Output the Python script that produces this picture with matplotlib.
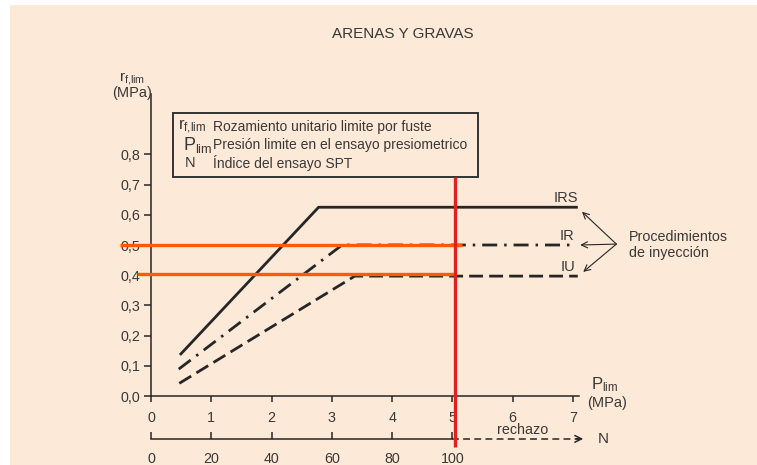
import matplotlib
matplotlib.use("Agg")
import matplotlib.pyplot as plt
from matplotlib.patches import Rectangle

plt.rcParams['font.family'] = ['Liberation Sans', 'DejaVu Sans']
plt.rcParams['mathtext.default'] = 'regular'

# presión límite Plim (MPa) y rozamiento unitario rf,lim (MPa)
p_irs = [0.48, 2.78, 7.08]
r_irs = [0.136, 0.625, 0.625]
p_ir = [0.46, 3.17, 7.05]
r_ir = [0.089, 0.50, 0.50]
p_iu = [0.47, 3.38, 7.08]
r_iu = [0.042, 0.397, 0.397]

procedures = ["IRS", "IR", "IU"]
y_ticks = [0.0, 0.1, 0.2, 0.3, 0.4, 0.5, 0.6, 0.7, 0.8]
y_labels = ["0,0", "0,1", "0,2", "0,3", "0,4", "0,5", "0,6", "0,7", "0,8"]
x_ticks = [0, 1, 2, 3, 4, 5, 6, 7]
n_ticks = [0, 20, 40, 60, 80, 100]

# lecturas marcadas: rf,lim 0,5 y 0,4 ; rechazo en Plim = 5
r_marks = [0.50, 0.405]
r_marks_from = [-0.51, -0.23]
r_marks_to = [5.16, 5.06]
p_reject = 5.04

TXT = '#383838'
LINE = '#262626'
BG = '#fde9d7'

fig = plt.figure(figsize=(7.57, 4.65), dpi=100)
fig.patch.set_facecolor('white')
fig.patches.append(Rectangle((10 / 757, 0), 747 / 757, 460 / 465,
                             transform=fig.transFigure, facecolor=BG,
                             edgecolor='none', zorder=-10))

ax = fig.add_axes([151 / 757, 69 / 465, 428 / 757, 302 / 465])
ax.set_facecolor('none')
ax.set_xlim(0, 7.1)
ax.set_ylim(0, 1.0)
for s in ['top', 'right']:
    ax.spines[s].set_visible(False)
for s in ['left', 'bottom']:
    ax.spines[s].set_linewidth(1.1)
    ax.spines[s].set_color(LINE)

ax.set_yticks(y_ticks)
ax.set_yticklabels(y_labels)
ax.set_xticks(x_ticks)
ax.tick_params(axis='y', length=5, width=1.1, color=LINE, labelsize=10.3,
               labelcolor=TXT, pad=3)
ax.tick_params(axis='x', length=4, width=1.1, color=LINE, labelsize=10.3,
               labelcolor=TXT, pad=6.5)

# curvas de los procedimientos de inyección
ax.plot(p_irs, r_irs, color=LINE, lw=2.0, solid_joinstyle='miter',
        solid_capstyle='butt', clip_on=False)
ax.plot(p_ir, r_ir, color=LINE, lw=2.0, linestyle=(0, (5.4, 2.5, 0.9, 2.5)),
        dash_capstyle='butt', clip_on=False)
ax.plot(p_iu, r_iu, color=LINE, lw=2.0, linestyle=(0, (5.0, 2.2)),
        dash_capstyle='butt', clip_on=False)

label_y = [0.656, 0.530, 0.427]
label_x = [7.08, 7.03, 7.04]
for name, lx, ly in zip(procedures, label_x, label_y):
    ax.text(lx, ly, name, ha='right', va='center', fontsize=10.5, color=TXT)

# flechas hacia cada curva
arrow_tips = [(7.15, 0.61), (7.12, 0.50), (7.17, 0.411)]
for tip in arrow_tips:
    ax.annotate('', xy=tip, xytext=(7.72, 0.503), annotation_clip=False,
                arrowprops=dict(arrowstyle='->', color=LINE, lw=0.8,
                                shrinkA=0, shrinkB=0,
                                mutation_scale=11))
ax.text(7.93, 0.526, "Procedimientos", ha='left', va='center', fontsize=10.3,
        color=TXT)
ax.text(7.93, 0.473, "de inyección", ha='left', va='center', fontsize=10.3,
        color=TXT)

# lecturas en naranja y límite de rechazo en rojo
for r, x0, x1 in zip(r_marks, r_marks_from, r_marks_to):
    ax.plot([x0, x1], [r, r], color='#ff5a0a', lw=2.4, clip_on=False,
            solid_capstyle='butt', zorder=5)
ax.plot([p_reject, p_reject], [0.725, -0.169], color='#e3201f', lw=2.4,
        clip_on=False, solid_capstyle='butt', zorder=6)

# cuadro de notación
ax.add_patch(Rectangle((0.365, 0.725), 5.055, 0.212, facecolor='none',
                       edgecolor='#333333', lw=1.4, clip_on=False))
sym_x = 0.48
desc_x = 1.03
rows_y = [0.891, 0.831, 0.772]
ax.text(sym_x - 0.04, rows_y[0], r"r$_{f{,}lim}$", fontsize=12, color=TXT,
        ha='left', va='center')
ax.text(sym_x + 0.05, rows_y[1], r"P$_{lim}$", fontsize=13, color=TXT,
        ha='left', va='center')
ax.text(sym_x + 0.08, rows_y[2], "N", fontsize=10.5, color=TXT,
        ha='left', va='center')
ax.text(desc_x, rows_y[0], "Rozamiento unitario limite por fuste",
        fontsize=10, color=TXT, ha='left', va='center')
ax.text(desc_x, rows_y[1], "Presión limite en el ensayo presiometrico",
        fontsize=10, color=TXT, ha='left', va='center')
ax.text(desc_x, rows_y[2], "Índice del ensayo SPT",
        fontsize=10, color=TXT, ha='left', va='center')

# rótulos de ejes
ax.text(-0.315, 1.05, r"r$_{f{,}lim}$", fontsize=11, color=TXT, ha='center',
        va='center', clip_on=False)
ax.text(-0.32, 1.002, "(MPa)", fontsize=10.5, color=TXT, ha='center',
        va='center', clip_on=False)
ax.text(7.52, 0.037, r"P$_{lim}$", fontsize=12, color=TXT, ha='center',
        va='center', clip_on=False)
ax.text(7.56, -0.023, "(MPa)", fontsize=10.5, color=TXT, ha='center',
        va='center', clip_on=False)

fig.text(403 / 757, 1 - 34 / 465, "ARENAS Y GRAVAS", fontsize=11,
         color=TXT, ha='center', va='center')

# eje secundario con el índice N del SPT (N = 20 · Plim)
n_y = -0.142
sec = ax.secondary_xaxis(n_y, functions=(lambda p: p * 20, lambda n: n / 20))
sec.set_xticks(n_ticks)
sec.spines['bottom'].set_visible(False)
sec.tick_params(axis='x', direction='in', length=5, width=1.1, color=LINE,
                labelsize=10.3, labelcolor=TXT, pad=9.5)
ax.plot([0, 5.0], [n_y, n_y], color=LINE, lw=1.1, clip_on=False)
ax.plot([5.0, 7.1], [n_y, n_y], color=LINE, lw=1.1, linestyle=(0, (4.5, 2.8)),
        clip_on=False)
ax.annotate('', xy=(7.17, n_y), xytext=(7.05, n_y), annotation_clip=False,
            arrowprops=dict(arrowstyle='->', color=LINE, lw=1.1,
                            shrinkA=0, shrinkB=0, mutation_scale=12))
ax.text(7.51, n_y, "N", fontsize=11, color=TXT, ha='center', va='center')
ax.text(6.17, -0.113, "rechazo", fontsize=10.3, color=TXT, ha='center',
        va='center')

fig.savefig("out.png", dpi=100)
